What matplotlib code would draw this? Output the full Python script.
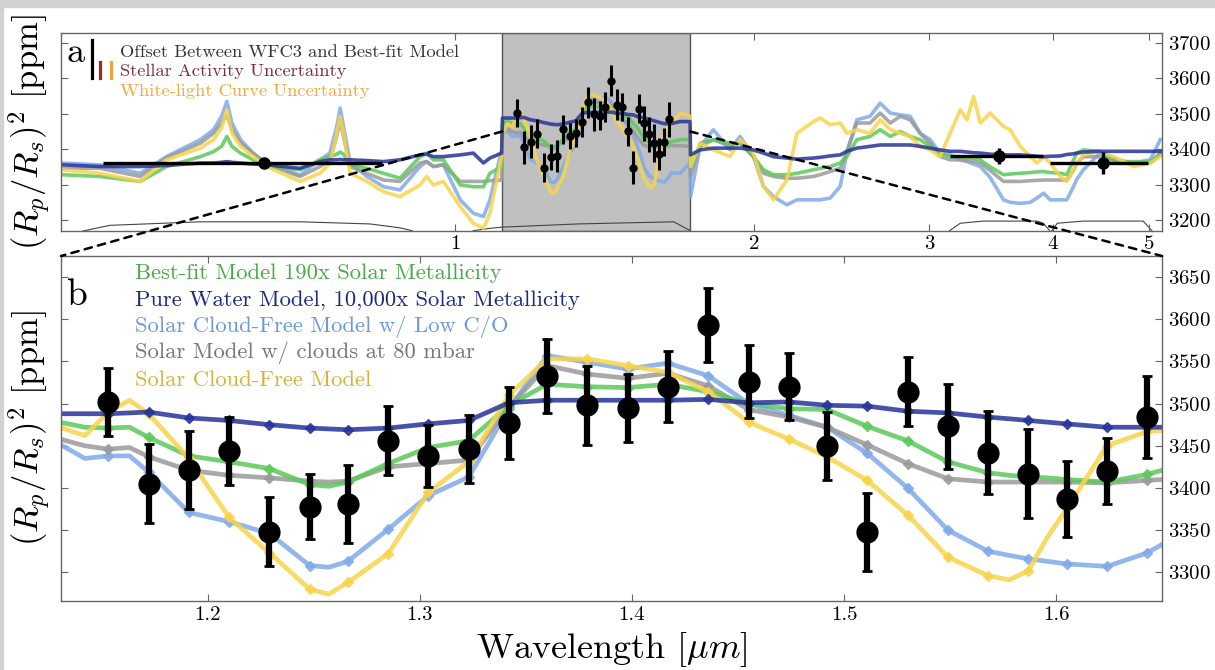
import numpy as np
import matplotlib.pyplot as plt
from matplotlib.patches import ConnectionPatch, Rectangle

plt.rcParams['font.family'] = 'serif'
plt.rcParams['font.serif'] = ['cmr10']
plt.rcParams['mathtext.fontset'] = 'cm'
plt.rcParams['axes.unicode_minus'] = False
plt.rcParams['axes.formatter.use_mathtext'] = True

# ---- WFC3 transmission spectrum (panel b, also shown in panel a)
wl_data = [1.153, 1.172, 1.191, 1.210, 1.229, 1.248, 1.266, 1.285, 1.304, 1.323,
           1.342, 1.360, 1.379, 1.398, 1.417, 1.436, 1.455, 1.474, 1.492, 1.511,
           1.530, 1.549, 1.568, 1.587, 1.605, 1.624, 1.643]
depth = [3502, 3405, 3421, 3444, 3348, 3378, 3381, 3456, 3438, 3446,
         3477, 3533, 3498, 3495, 3520, 3593, 3526, 3520, 3450, 3348,
         3514, 3473, 3442, 3417, 3387, 3420, 3484]
depth_err = [40, 47, 46, 40, 41, 38, 46, 41, 37, 40,
             43, 44, 47, 40, 42, 44, 43, 40, 40, 46,
             41, 50, 49, 53, 45, 39, 49]

# ---- broadband points: Kepler, Spitzer 3.6, Spitzer 4.5
bb_wl = [0.642, 3.53, 4.49]
bb_lo = [0.442, 3.15, 3.97]
bb_hi = [0.844, 3.91, 4.99]
bb_depth = [3361, 3381, 3361]
bb_err = [5, 22, 30]

# ---- models in the WFC3 band (panel b)
wl_line = [1.130, 1.142, 1.153, 1.163, 1.172, 1.191, 1.210, 1.229, 1.248, 1.257,
           1.266, 1.285, 1.304, 1.323, 1.342, 1.360, 1.379, 1.398, 1.417, 1.436,
           1.455, 1.474, 1.492, 1.511, 1.530, 1.549, 1.568, 1.578, 1.587, 1.596,
           1.605, 1.624, 1.643, 1.650]
water_b = [3488, 3488, 3488, 3489, 3490, 3483, 3480, 3475, 3471, 3470,
           3469, 3471, 3476, 3480, 3501, 3504, 3504, 3504, 3504, 3505,
           3501, 3502, 3498, 3497, 3491, 3489, 3484, 3482, 3480, 3478,
           3476, 3472, 3472, 3472]
best_b = [3478, 3472, 3471, 3472, 3460, 3438, 3431, 3423, 3404, 3402,
          3407, 3429, 3448, 3456, 3498, 3523, 3520, 3519, 3523, 3514,
          3500, 3494, 3493, 3473, 3456, 3431, 3418, 3415, 3413, 3412,
          3410, 3407, 3416, 3421]
cloud_b = [3458, 3450, 3446, 3448, 3437, 3421, 3415, 3412, 3408, 3407,
           3408, 3425, 3429, 3433, 3496, 3545, 3535, 3530, 3536, 3521,
           3493, 3484, 3472, 3451, 3429, 3411, 3407, 3407, 3407, 3407,
           3407, 3406, 3409, 3410]
lowco_b = [3452, 3435, 3438, 3438, 3419, 3371, 3360, 3346, 3308, 3306,
           3313, 3351, 3391, 3413, 3494, 3557, 3549, 3541, 3548, 3533,
           3500, 3486, 3472, 3441, 3400, 3350, 3325, 3320, 3316, 3313,
           3310, 3307, 3323, 3333]
solar_b = [3472, 3462, 3490, 3504, 3488, 3435, 3365, 3323, 3280, 3274,
           3288, 3322, 3395, 3431, 3510, 3553, 3553, 3545, 3537, 3514,
           3478, 3458, 3437, 3409, 3368, 3318, 3296, 3291, 3302, 3342,
           3375, 3450, 3467, 3468]

# ---- models over the full range (panel a), outside the WFC3 band
wl_left = [0.401, 0.439, 0.482, 0.512, 0.554, 0.571, 0.582, 0.589, 0.596, 0.608,
           0.626, 0.646, 0.698, 0.731, 0.748, 0.760, 0.766, 0.772, 0.784, 0.815,
           0.847, 0.880, 0.922, 0.936, 0.951, 0.973, 1.012, 1.043, 1.068, 1.084,
           1.114]
water_l = [3356, 3351, 3351, 3354, 3361, 3361, 3363, 3365, 3363, 3361,
           3358, 3356, 3346, 3365, 3370, 3370, 3371, 3370, 3370, 3368,
           3365, 3370, 3384, 3386, 3379, 3379, 3384, 3389, 3361, 3375,
           3389]
best_l = [3328, 3323, 3309, 3351, 3379, 3393, 3408, 3436, 3408, 3389,
          3370, 3351, 3342, 3370, 3379, 3386, 3392, 3386, 3356, 3346,
          3332, 3318, 3379, 3389, 3370, 3370, 3299, 3294, 3294, 3332,
          3351]
cloud_l = [3346, 3346, 3323, 3375, 3417, 3445, 3474, 3497, 3455, 3417,
           3389, 3356, 3323, 3351, 3370, 3436, 3483, 3436, 3351, 3332,
           3313, 3309, 3361, 3365, 3351, 3356, 3309, 3309, 3309, 3311,
           3313]
lowco_l = [3361, 3356, 3332, 3379, 3427, 3455, 3493, 3535, 3474, 3427,
           3389, 3361, 3327, 3370, 3389, 3464, 3516, 3464, 3361, 3323,
           3294, 3285, 3351, 3365, 3351, 3356, 3257, 3219, 3210, 3257,
           3398]
solar_l = [3342, 3332, 3309, 3370, 3403, 3427, 3460, 3511, 3445, 3408,
           3379, 3351, 3309, 3332, 3360, 3445, 3493, 3445, 3332, 3309,
           3280, 3266, 3299, 3323, 3299, 3309, 3238, 3191, 3177, 3219,
           3379]

wl_edge = [1.116, 1.685, 1.724]
water_e = [3488, 3478, 3478]
best_e = [3474, 3427, 3427]
cloud_e = [3464, 3410, 3408]
lowco_e = [3445, 3332, 3361]
solar_e = [3445, 3502, 3493]

wl_right = [1.726, 1.765, 1.820, 1.892, 1.936, 1.997, 2.044, 2.092, 2.158, 2.209,
            2.296, 2.331, 2.386, 2.442, 2.480, 2.538, 2.617, 2.679, 2.743, 2.807,
            2.872, 2.939, 3.008, 3.078, 3.151, 3.226, 3.276, 3.327, 3.379, 3.458,
            3.566, 3.622, 3.707, 3.794, 3.853, 3.913, 3.974, 4.067, 4.130, 4.195,
            4.227, 4.292, 4.461, 4.637, 4.820, 5.011, 5.129]
water_r = [3384, 3398, 3403, 3403, 3403, 3398, 3389, 3379, 3375, 3372,
           3375, 3377, 3381, 3384, 3394, 3403, 3408, 3412, 3412, 3412,
           3412, 3408, 3403, 3398, 3394, 3394, 3392, 3390, 3389, 3386,
           3384, 3384, 3384, 3382, 3380, 3379, 3380, 3381, 3385, 3387,
           3389, 3392, 3394, 3394, 3394, 3394, 3394]
best_r = [3351, 3408, 3427, 3417, 3417, 3379, 3342, 3328, 3328, 3332,
          3342, 3346, 3351, 3361, 3379, 3427, 3436, 3455, 3436, 3450,
          3436, 3427, 3408, 3389, 3379, 3379, 3377, 3374, 3370, 3350,
          3328, 3330, 3332, 3334, 3336, 3337, 3334, 3332, 3328, 3370,
          3389, 3398, 3394, 3365, 3365, 3365, 3384]
cloud_r = [3323, 3417, 3427, 3408, 3417, 3379, 3332, 3323, 3318, 3318,
           3323, 3328, 3337, 3346, 3394, 3474, 3474, 3502, 3474, 3493,
           3483, 3445, 3417, 3379, 3370, 3370, 3368, 3365, 3361, 3340,
           3309, 3309, 3309, 3311, 3312, 3313, 3313, 3313, 3313, 3340,
           3361, 3379, 3379, 3361, 3361, 3361, 3389]
lowco_r = [3266, 3408, 3455, 3398, 3436, 3379, 3295, 3266, 3243, 3257,
           3257, 3257, 3262, 3295, 3389, 3483, 3493, 3530, 3502, 3497,
           3493, 3445, 3427, 3389, 3384, 3370, 3365, 3358, 3351, 3320,
           3257, 3250, 3247, 3250, 3262, 3276, 3257, 3257, 3257, 3295,
           3315, 3342, 3389, 3370, 3361, 3370, 3427]
solar_r = [3351, 3417, 3398, 3379, 3427, 3389, 3295, 3257, 3313, 3445,
           3478, 3488, 3469, 3474, 3445, 3455, 3445, 3483, 3455, 3445,
           3436, 3408, 3398, 3379, 3445, 3511, 3483, 3549, 3474, 3502,
           3464, 3455, 3408, 3379, 3361, 3379, 3361, 3323, 3309, 3342,
           3361, 3384, 3394, 3375, 3351, 3361, 3379]

# ---- filter throughputs drawn along the bottom of panel a
kep_wl = [0.422, 0.449, 0.553, 0.698, 0.821, 0.880, 0.905]
kep_tp = [3169, 3185, 3195, 3195, 3189, 3178, 3170]
wfc_wl = [1.043, 1.080, 1.115, 1.330, 1.660, 1.725]
wfc_tp = [3170, 3176, 3180, 3189, 3195, 3170]
ch1_wl = [3.147, 3.226, 3.402, 3.855, 3.910, 3.970]
ch1_tp = [3170, 3191, 3197, 3197, 3191, 3170]
ch2_wl = [3.990, 4.040, 4.290, 4.930, 5.030]
ch2_tp = [3170, 3191, 3197, 3197, 3170]

labels = ['Best-fit Model 190x Solar Metallicity',
          'Pure Water Model, 10,000x Solar Metallicity',
          'Solar Cloud-Free Model w/ Low C/O',
          'Solar Model w/ clouds at 80 mbar',
          'Solar Cloud-Free Model']
line_colors = ['#5cc95a', '#27339a', '#80aaea', '#9a9a9a', '#f8d44a']
text_colors = ['#4aaa48', '#1d2a80', '#6a9ad8', '#777777', '#d9b43a']

models_b = [best_b, water_b, lowco_b, cloud_b, solar_b]
models_l = [best_l, water_l, lowco_l, cloud_l, solar_l]
models_e = [best_e, water_e, lowco_e, cloud_e, solar_e]
models_r = [best_r, water_r, lowco_r, cloud_r, solar_r]
draw_order = [2, 3, 0, 4, 1]

fig = plt.figure(figsize=(12.15, 6.70), dpi=100)
fig.patches.append(Rectangle((0, 0.9895), 1, 0.0105, transform=fig.transFigure,
                             color='#d2d2d2', zorder=0))
fig.patches.append(Rectangle((0, 0), 0.0025, 1, transform=fig.transFigure,
                             color='#d2d2d2', zorder=0))

ax1 = fig.add_axes([0.0502, 0.6552, 0.9062, 0.2955])
ax2 = fig.add_axes([0.0502, 0.1030, 0.9062, 0.5149])

# ---------------- panel a
ax1.set_xscale('log')
ax1.axvspan(1.115, 1.725, facecolor='#c0c0c0', edgecolor='#555555', lw=1, zorder=0)
for wl, tp in [(kep_wl, kep_tp), (wfc_wl, wfc_tp), (ch1_wl, ch1_tp), (ch2_wl, ch2_tp)]:
    ax1.plot(wl, tp, color='#444444', lw=0.8, zorder=1)

for i in draw_order:
    x = np.concatenate([wl_left, wl_edge, wl_line, wl_right])
    y = np.concatenate([models_l[i], models_e[i], models_b[i], models_r[i]])
    order = np.argsort(x)
    ax1.plot(x[order], y[order], color=line_colors[i], lw=2.6, alpha=0.85, zorder=2,
             solid_joinstyle='round')

ax1.errorbar(wl_data, depth, yerr=depth_err, fmt='o', color='black', ms=5,
             elinewidth=2.2, capsize=0, zorder=4)
bb_wl_a = np.array(bb_wl)
xerr = [bb_wl_a - np.array(bb_lo), np.array(bb_hi) - bb_wl_a]
ax1.errorbar(bb_wl, bb_depth, xerr=xerr, yerr=bb_err, fmt='o', color='black',
             ms=8, elinewidth=2.4, capsize=0, zorder=4)

ax1.set_xlim(0.401, 5.15)
ax1.set_ylim(3169, 3728)
ax1.set_xticks([1, 2, 3, 4, 5])
ax1.set_xticklabels(['1', '2', '3', '4', '5'])
ax1.xaxis.set_minor_locator(plt.NullLocator())
ax1.set_yticks([3200, 3300, 3400, 3500, 3600, 3700])

ax1.text(0.005, 0.855, 'a', transform=ax1.transAxes, fontsize=26, zorder=6)
ax1.plot([0.0279, 0.0279], [0.773, 0.965], transform=ax1.transAxes, color='black', lw=2.3)
ax1.plot([0.0354, 0.0354], [0.773, 0.854], transform=ax1.transAxes, color='#9c2a22', lw=2.3)
ax1.plot([0.0454, 0.0454], [0.773, 0.854], transform=ax1.transAxes, color='#f2a23a', lw=2.3)
top_texts = ['Offset Between WFC3 and Best-fit Model', 'Stellar Activity Uncertainty',
             'White-light Curve Uncertainty']
top_colors = ['#333333', '#7b2d3b', '#f4a742']
for k, (t, c) in enumerate(zip(top_texts, top_colors)):
    ax1.text(0.0536, 0.904 - 0.0985 * k, t, color=c, fontsize=13.3, va='center',
             transform=ax1.transAxes)

# ---------------- panel b
mark = np.isin(wl_line, wl_data)
for i in draw_order:
    ax2.plot(wl_line, models_b[i], color=line_colors[i], lw=3.4, alpha=0.85,
             marker='D', ms=5, markevery=list(np.where(mark)[0]), zorder=2,
             solid_joinstyle='round')

ax2.errorbar(wl_data, depth, yerr=depth_err, fmt='o', color='black', ms=15,
             elinewidth=4.5, capsize=3.5, capthick=2, zorder=4)

ax2.set_xlim(1.1307, 1.650)
ax2.set_ylim(3266, 3675)
ax2.set_xticks([1.2, 1.3, 1.4, 1.5, 1.6])
ax2.set_xticklabels(['1.2', '1.3', '1.4', '1.5', '1.6'])
ax2.set_yticks([3300, 3350, 3400, 3450, 3500, 3550, 3600, 3650])

ax2.text(0.005, 0.858, 'b', transform=ax2.transAxes, fontsize=27, zorder=6)
for k, (t, c) in enumerate(zip(labels, text_colors)):
    ax2.text(0.0672, 0.9507 - 0.0775 * k, t, color=c, fontsize=16.3, va='center',
             transform=ax2.transAxes)

ax2.set_xlabel(r'Wavelength [$\mu m$]', fontsize=26, labelpad=4)

for ax in (ax1, ax2):
    for s in ax.spines.values():
        s.set_color('#666666')
        s.set_linewidth(1.0)
    ax.tick_params(axis='both', which='both', direction='in', top=True, bottom=True,
                   left=True, right=True, labelleft=False, labelright=True,
                   labelsize=15, color='#666666', length=5, pad=4)
    ax.set_ylabel(r'$(R_p/R_s)^2\ [\mathrm{ppm}]$', fontsize=25)
    ax.yaxis.set_label_position('left')
    ax.yaxis.set_label_coords(-0.008, 0.5)

ax1.tick_params(axis='x', pad=3)

# dashed connectors from the shaded WFC3 band to panel b
for xa, xb in [(1.115, 0.0), (1.725, 1.0)]:
    con = ConnectionPatch(xyA=(xa, 3450), coordsA=ax1.transData,
                          xyB=(xb, 1.0), coordsB=ax2.transAxes,
                          linestyle=(0, (3, 2.5)), color='black', lw=1.8, zorder=10)
    fig.add_artist(con)

fig.savefig('out.png', dpi=100, facecolor='white')
